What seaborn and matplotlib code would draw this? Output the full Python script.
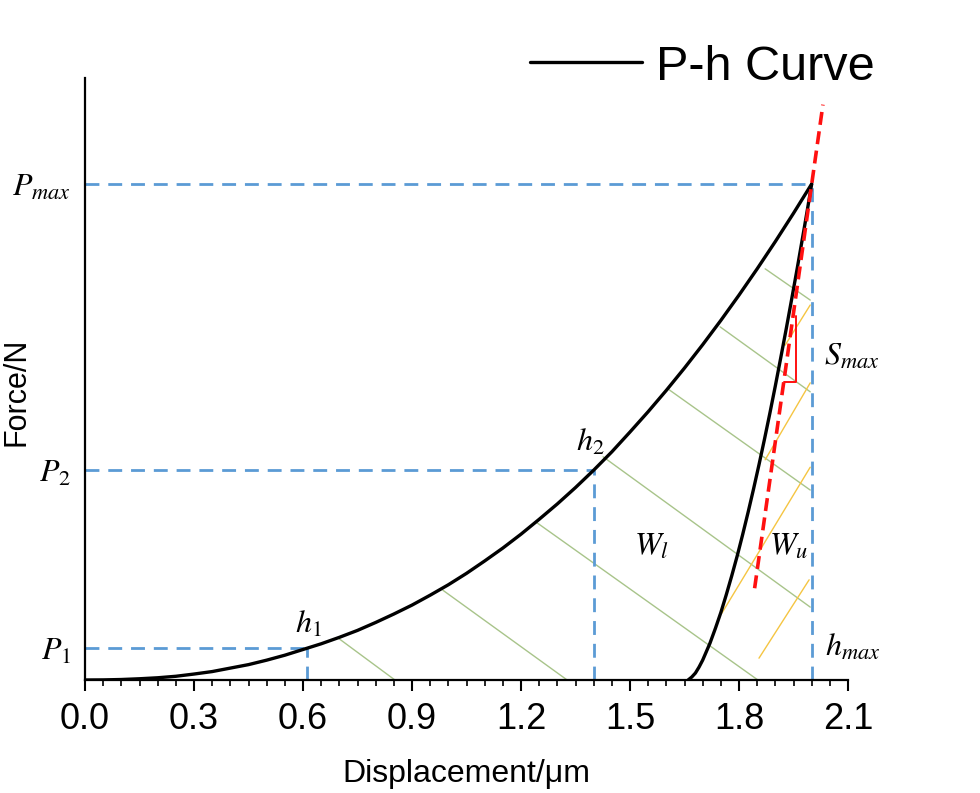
import numpy as np
import pandas as pd
import matplotlib
matplotlib.use("Agg")
import matplotlib.pyplot as plt
import seaborn as sns

# ---------------- data ----------------
load_h = [0.0, 0.05, 0.1, 0.15, 0.2, 0.25, 0.3, 0.35, 0.4, 0.45, 0.5, 0.55, 0.6, 0.65, 0.7,
          0.75, 0.8, 0.85, 0.9, 0.95, 1.0, 1.05, 1.1, 1.15, 1.2, 1.25, 1.3, 1.35, 1.4,
          1.45, 1.5, 1.55, 1.6, 1.65, 1.7, 1.75, 1.8, 1.85, 1.9, 1.95, 2.0]
load_P = [0.0, 0.0002, 0.001, 0.0025, 0.0045, 0.0075, 0.012, 0.017, 0.024, 0.031, 0.040,
          0.050, 0.0615, 0.073, 0.086, 0.100, 0.116, 0.133, 0.151, 0.171, 0.192, 0.215,
          0.240, 0.266, 0.294, 0.324, 0.355, 0.388, 0.423, 0.460, 0.500, 0.541, 0.584,
          0.629, 0.676, 0.725, 0.776, 0.829, 0.884, 0.941, 1.0]

unload_h = [1.66, 1.67, 1.68, 1.69, 1.70, 1.71, 1.72, 1.735, 1.75, 1.765, 1.78, 1.795,
            1.81, 1.825, 1.84, 1.855, 1.87, 1.885, 1.90, 1.915, 1.93, 1.945, 1.96,
            1.97, 1.98, 1.99, 2.0]
unload_P = [0.0, 0.006, 0.014, 0.026, 0.040, 0.057, 0.074, 0.104, 0.136, 0.172, 0.210,
            0.250, 0.293, 0.338, 0.385, 0.434, 0.485, 0.538, 0.593, 0.650, 0.708, 0.768,
            0.829, 0.871, 0.913, 0.956, 1.0]

h1, h2, hmax = 0.61, 1.40, 2.0
P1, P2, Pmax = 0.0645, 0.423, 1.0

tangent_h = [1.843, 2.031]
tangent_P = [0.185, 1.160]
tri_h = [1.923, 1.957, 1.957]
tri_P = [0.601, 0.601, 0.734]

green_x0 = [0.696, 0.985, 1.244, 1.426, 1.608, 1.748, 1.872]
green_y0 = [0.085, 0.181, 0.317, 0.450, 0.585, 0.712, 0.829]
green_x1 = [0.853, 1.327, 1.852, 1.996, 1.996, 1.996, 1.996]
green_y1 = [0.0, 0.0, 0.0, 0.147, 0.383, 0.581, 0.766]

yellow_x0 = [1.855, 1.753, 1.872, 1.927]
yellow_y0 = [0.044, 0.135, 0.444, 0.675]
yellow_x1 = [1.993, 1.996, 1.996, 1.996]
yellow_y1 = [0.202, 0.429, 0.599, 0.756]

x_ticks = [0.0, 0.3, 0.6, 0.9, 1.2, 1.5, 1.8, 2.1]
x_ticklabels = ["0.0", "0.3", "0.6", "0.9", "1.2", "1.5", "1.8", "2.1"]
y_ticks = [P1, P2, Pmax]
y_ticklabels = [r"$P_1$", r"$P_2$", r"$P_{max}$"]

# ---------------- style ----------------
sns.set_theme(style="white")
plt.rcParams["font.family"] = ["Liberation Sans", "DejaVu Sans"]
plt.rcParams["mathtext.fontset"] = "stix"
for k in ["text.color", "axes.labelcolor", "xtick.color", "ytick.color"]:
    plt.rcParams[k] = "black"

fig = plt.figure(figsize=(9.8, 7.93), dpi=100)
ax = fig.add_axes([85 / 980, 1 - 680 / 793, (848 - 85) / 980, (680 - 78) / 793])

blue = "#5B9BD5"
green = "#A8C48A"
yellow = "#F5C542"

# hatching
for x0, y0, x1, y1 in zip(green_x0, green_y0, green_x1, green_y1):
    ax.plot([x0, x1], [y0, y1], color=green, lw=1.0, zorder=1)
for x0, y0, x1, y1 in zip(yellow_x0, yellow_y0, yellow_x1, yellow_y1):
    ax.plot([x0, x1], [y0, y1], color=yellow, lw=1.0, zorder=1)

# reference dashed lines
dash = (0, (5, 3.2))
lwb = 2.0
ax.plot([0, hmax], [Pmax, Pmax], color=blue, lw=lwb, ls=dash, zorder=2)
ax.plot([hmax, hmax], [0, Pmax], color=blue, lw=lwb, ls=dash, zorder=2)
ax.plot([0, h2], [P2, P2], color=blue, lw=lwb, ls=dash, zorder=2)
ax.plot([h2, h2], [0, P2], color=blue, lw=lwb, ls=dash, zorder=2)
ax.plot([0, h1], [P1, P1], color=blue, lw=lwb, ls=dash, zorder=2)
ax.plot([h1, h1], [0, P1], color=blue, lw=lwb, ls=dash, zorder=2)

# curves
load_df = pd.DataFrame({"h": load_h, "P": load_P})
unload_df = pd.DataFrame({"h": unload_h, "P": unload_P})
sns.lineplot(data=load_df, x="h", y="P", color="black", lw=2.4, sort=False,
             label="P-h Curve", ax=ax, zorder=4)
sns.lineplot(data=unload_df, x="h", y="P", color="black", lw=2.4, sort=False,
             ax=ax, zorder=4)

# tangent (stiffness) line and triangle
ax.plot(tangent_h, tangent_P, color="#FF1010", lw=2.6, ls=(0, (3.6, 1.8)), zorder=5)
ax.plot(tri_h, tri_P, color="#FF1010", lw=1.4, zorder=5)

# annotations
fs_m = 23
ax.text(0.614, 0.112, r"$h_1$", fontsize=fs_m, ha="center", va="center")
ax.text(1.39, 0.478, r"$h_2$", fontsize=fs_m, ha="center", va="center")
ax.text(1.558, 0.268, r"$W_l$", fontsize=fs_m, ha="center", va="center")
ax.text(1.938, 0.268, r"$W_u$", fontsize=fs_m, ha="center", va="center")
ax.text(2.035, 0.652, r"$S_{max}$", fontsize=fs_m, ha="left", va="center")
ax.text(2.038, 0.066, r"$h_{max}$", fontsize=fs_m, ha="left", va="center")

# axes
ax.set_xlim(0, 2.1)
ax.set_ylim(0, (680 - 78) / 496)
ax.set_xticks(x_ticks)
ax.set_xticklabels(x_ticklabels, fontsize=26)
ax.set_xticks(np.arange(0, 2.1001, 0.05), minor=True)
ax.set_yticks(y_ticks)
ax.set_yticklabels(y_ticklabels, fontsize=fs_m)
ax.tick_params(axis="x", which="major", direction="out", length=8, width=1.5,
               bottom=True, pad=8)
ax.tick_params(axis="x", which="minor", direction="out", length=4, width=1.2,
               bottom=True)
ax.tick_params(axis="y", length=0, pad=10)

for s in ["top", "right"]:
    ax.spines[s].set_visible(False)
for s in ["left", "bottom"]:
    ax.spines[s].set_color("black")
    ax.spines[s].set_linewidth(1.6)

ax.set_xlabel("Displacement/μm", fontsize=23, labelpad=16)
ax.set_ylabel("Force/N", fontsize=22)
ax.yaxis.set_label_coords(-0.07, 0.478)

leg = ax.legend(loc="center right", bbox_to_anchor=(0.893, 1 - 67 / 793),
                bbox_transform=fig.transFigure, frameon=False,
                handlelength=2.3, handletextpad=0.3, borderpad=0, borderaxespad=0,
                prop={"size": 35})
for line in leg.get_lines():
    line.set_linewidth(2.4)

fig.savefig("out.png", dpi=100)
